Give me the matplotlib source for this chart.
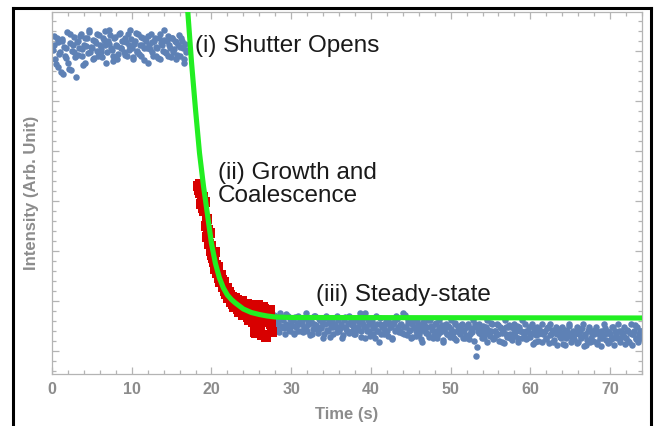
import numpy as np
import matplotlib.pyplot as plt
from matplotlib.lines import Line2D
from matplotlib.ticker import MultipleLocator

# ── Data (intensity in arbitrary units) ─────────────────────────────────────
# the trace was sampled every 0.1 s; listed as two interleaved halves (a, b)

t_before_a = np.round(np.arange(0.2, 16.81, 0.2), 1)
t_before_b = np.round(np.arange(0.1, 16.91, 0.2), 1)
t_steady_a = np.round(np.arange(27.6, 74.01, 0.2), 1)
t_steady_b = np.round(np.arange(27.7, 73.91, 0.2), 1)

i_before_a = [
    71.3, 68.4, 72.7, 66.9, 69.8, 72.0, 65.5, 69.1, 70.6, 67.7, 73.5, 66.2, 71.3, 69.8, 64.8,
    72.0, 70.6, 73.5, 69.1, 71.3, 67.7, 72.7, 74.2, 69.8, 70.6, 68.4, 72.0, 73.5, 69.1, 71.3,
    69.8, 72.7, 71.3, 67.7, 72.0, 74.2, 70.6, 69.1, 72.7, 71.3, 68.4, 73.5, 70.6, 72.0, 69.8,
    72.7, 69.1, 71.3, 74.2, 70.6, 68.4, 72.0, 69.8, 73.5, 71.3, 69.1, 72.7, 70.6, 72.0, 67.7,
    71.3, 73.5, 69.8, 72.0, 69.1, 70.6, 72.7, 68.4, 71.3, 74.2, 69.8, 72.0, 69.1, 70.6, 72.7,
    69.8, 72.0, 68.4, 71.3, 69.1, 72.7, 70.6, 67.7, 69.8,
]
i_before_b = [
    70.2, 73.0, 67.4, 71.8, 69.5, 65.9, 72.4, 70.9, 68.7, 73.8, 66.5, 71.6, 70.1, 72.9, 68.9,
    71.9, 69.3, 73.1, 70.4, 67.2, 72.6, 71.0, 69.6, 73.9, 70.8, 72.3, 68.6, 71.7, 70.0, 73.3,
    70.5, 68.8, 72.2, 74.0, 69.9, 71.5, 73.2, 70.3, 68.1, 72.8, 71.1, 69.4, 73.6, 70.7, 72.1,
    69.2, 71.9, 73.4, 70.2, 72.5, 68.9, 71.4, 73.7, 70.0, 69.5, 72.9, 71.2, 68.3, 72.4, 70.6,
    73.1, 70.4, 71.8, 69.0, 72.7, 70.9, 68.6, 73.5, 71.6, 70.1, 72.2, 69.7, 73.0, 71.3, 68.8,
    72.6, 70.5, 71.9, 69.3, 73.2, 70.8, 72.0, 68.5, 71.4, 70.2,
]

i_steady_a = [
    16.3, 14.8, 17.0, 14.1, 15.5, 17.7, 14.8, 16.3, 13.4, 15.5,
    17.0, 14.1, 15.5, 16.3, 13.4, 14.8, 17.0, 15.5, 14.1, 16.3,
    14.8, 17.7, 14.1, 15.5, 16.3, 13.4, 15.5, 17.0, 14.8, 14.1,
    16.3, 14.8, 12.6, 15.5, 17.0, 14.1, 16.3, 14.8, 13.4, 15.5,
    14.8, 17.0, 14.1, 15.5, 12.6, 16.3, 14.8, 14.1, 17.0, 15.5,
    14.1, 15.5, 13.4, 16.3, 14.8, 17.7, 14.1, 15.5, 12.6, 14.8,
    16.3, 14.1, 15.5, 13.4, 14.8, 17.0, 14.1, 11.9, 15.5, 14.8,
    13.4, 15.5, 14.1, 16.3, 14.8, 12.6, 15.5, 14.1, 17.0, 14.8,
    14.1, 15.5, 17.7, 13.4, 14.8, 16.3, 14.1, 12.6, 15.5, 14.8,
    14.1, 16.3, 13.4, 14.8, 11.9, 15.5, 14.1, 14.8, 13.4, 16.3,
    14.8, 12.6, 15.5, 14.1, 13.4, 16.3, 14.8, 11.9, 14.1, 15.5,
    13.4, 14.8, 16.3, 14.1, 12.6, 15.5, 14.1, 14.8, 13.4, 15.5,
    14.1, 12.6, 14.8, 15.5, 13.4, 14.1, 16.3, 14.8, 9.0, 14.1,
    15.5, 13.4, 14.1, 12.6, 14.8, 16.3, 13.4, 14.1, 15.5, 12.6,
    14.1, 15.5, 13.4, 14.8, 11.9, 14.1, 16.3, 13.4, 14.8, 12.6,
    14.8, 13.4, 15.5, 14.1, 12.6, 14.8, 14.1, 16.3, 13.4, 14.1,
    12.6, 14.8, 13.4, 15.5, 14.1, 11.9, 14.8, 13.4, 14.1, 15.5,
    13.4, 14.1, 12.6, 14.8, 15.5, 13.4, 11.9, 14.1, 14.8, 13.4,
    14.1, 12.6, 14.8, 13.4, 11.2, 14.1, 15.5, 13.4, 12.6, 14.1,
    13.4, 14.8, 11.9, 14.1, 12.6, 15.5, 13.4, 11.2, 14.1, 14.8,
    12.6, 14.1, 13.4, 14.8, 11.9, 13.4, 14.1, 12.6, 15.5, 13.4,
    14.1, 11.9, 13.4, 14.8, 12.6, 14.1, 13.4, 15.5, 12.6, 14.1,
    13.4, 14.8, 12.6, 14.1, 11.9, 15.5, 13.4, 14.1, 12.6, 14.8,
    13.4, 14.1, 12.6,
]
i_steady_b = [
    15.8, 17.2, 14.4, 16.0, 13.9, 15.1, 16.8, 14.6, 17.4, 15.3,
    14.2, 16.5, 15.0, 13.6, 16.9, 15.7, 14.0, 16.2, 15.4, 13.8,
    16.6, 14.9, 15.8, 13.3, 16.1, 14.5, 17.1, 15.2, 13.7, 16.4,
    14.7, 15.9, 13.5, 16.7, 14.3, 15.6, 12.9, 16.0, 14.8, 15.3,
    13.9, 16.3, 14.6, 15.1, 13.2, 16.8, 14.4, 15.7, 13.6, 16.1,
    15.0, 13.4, 16.5, 14.2, 15.8, 12.8, 16.2, 14.9, 17.6, 14.0,
    15.5, 13.1, 16.0, 14.7, 12.7, 15.4, 14.1, 16.6, 13.5, 15.2,
    14.4, 16.1, 13.0, 15.6, 14.8, 12.5, 15.9, 14.3, 16.4, 13.8,
    15.3, 13.6, 14.9, 17.2, 13.3, 15.7, 14.2, 12.9, 16.0, 14.6,
    13.1, 15.4, 14.0, 12.4, 15.8, 14.5, 13.7, 16.2, 12.8, 15.0,
    14.3, 13.2, 15.6, 12.6, 14.9, 13.9, 15.2, 12.3, 14.6, 13.5,
    15.1, 12.9, 14.4, 13.6, 15.7, 12.2, 14.8, 13.8, 15.3, 12.7,
    14.2, 13.3, 15.0, 12.4, 14.7, 13.9, 12.0, 15.4, 10.8, 13.6,
    14.5, 12.6, 15.1, 13.4, 11.8, 14.3, 13.0, 15.6, 12.5, 14.0,
    13.2, 15.2, 12.1, 14.6, 13.7, 11.6, 14.9, 12.9, 15.3, 13.5,
    12.3, 14.4, 13.1, 15.0, 11.9, 14.1, 12.7, 13.8, 15.5, 12.4,
    14.0, 12.8, 13.5, 11.5, 14.7, 13.2, 12.0, 14.4, 13.6, 11.8,
    13.9, 12.5, 14.6, 11.7, 13.3, 14.2, 12.2, 13.7, 11.3, 14.5,
    12.9, 13.6, 11.4, 14.3, 12.6, 13.1, 15.0, 11.9, 13.8, 12.4,
    14.1, 11.6, 13.4, 12.8, 14.7, 11.1, 13.0, 12.3, 14.4, 11.8,
    13.5, 12.1, 14.2, 11.4, 13.8, 12.7, 11.0, 13.3, 14.6, 12.2,
    11.7, 13.9, 12.4, 14.8, 11.3, 13.1, 12.6, 14.0, 11.9, 13.6,
    12.8, 11.5, 14.3, 12.0, 13.7, 11.2, 13.4, 15.2, 12.5, 11.9,
    13.0, 14.1,
]

# growth & coalescence window (red squares)
t_growth_a = [
    18.3, 18.5, 18.7, 18.9, 19.1, 19.3, 19.5, 19.7, 19.9, 20.1,
    20.3, 20.5, 20.7, 20.9, 21.1, 21.3, 21.5, 21.7, 21.9, 22.1,
    22.3, 22.5, 22.7, 22.9, 23.1, 23.3, 23.5, 23.7, 23.9, 24.1,
    24.3, 24.5, 24.7, 24.9, 25.1, 25.3, 25.5, 25.7, 25.9, 26.1,
    26.3, 26.5, 26.7, 26.9, 27.1, 27.3, 27.5,
]
i_growth_a = [
    43.0, 41.6, 39.4, 40.9, 38.0, 35.1, 32.9, 31.5, 30.0, 29.3,
    27.8, 26.4, 25.7, 25.0, 23.9, 24.2, 22.8, 22.1, 21.7, 20.6,
    21.3, 19.9, 19.5, 20.6, 19.2, 18.4, 19.9, 18.8, 17.7, 19.2,
    17.3, 18.4, 16.3, 18.1, 19.2, 17.0, 13.9, 18.4, 17.3, 15.2,
    17.7, 18.8, 16.3, 13.0, 18.1, 16.6, 15.5,
]
t_growth_b = [
    18.4, 18.6, 18.8, 19.0, 19.2, 19.4, 19.6, 19.8, 20.0, 20.2,
    20.4, 20.6, 20.8, 21.0, 21.2, 21.4, 21.6, 21.8, 22.0, 22.2,
    22.4, 22.6, 22.8, 23.0, 23.2, 23.4, 23.6, 23.8, 24.0, 24.2,
    24.4, 24.6, 24.8, 25.0, 25.2, 25.4, 25.6, 25.8, 26.0, 26.2,
    26.4, 26.6, 26.8, 27.0, 27.2, 27.4, 27.6,
]
i_growth_b = [
    42.2, 43.5, 40.1, 38.6, 39.8, 36.4, 34.2, 33.6, 31.0, 28.6,
    29.9, 27.2, 26.9, 24.6, 25.2, 23.4, 23.9, 21.5, 22.6, 21.9,
    20.2, 20.9, 18.9, 19.6, 20.3, 17.9, 18.6, 20.1, 17.2, 18.3,
    19.5, 16.8, 17.6, 19.0, 15.9, 18.0, 13.6, 19.3, 15.0, 17.4,
    13.2, 18.5, 12.8, 17.0, 15.8, 18.2, 13.9,
]

# exponential fit curve (green)
t_fit = [16.9, 17.5, 18.0, 18.5, 19.0, 19.5, 20.0, 20.5, 21.0, 21.5,
         22.0, 22.5, 23.0, 24.0, 25.0, 26.0, 27.0, 28.0, 30.0, 74.0]
i_fit = [80.7, 67.7, 58.3, 49.6, 43.0, 37.3, 31.5, 27.5, 24.6, 22.6,
         21.2, 20.3, 19.6, 18.4, 17.7, 17.3, 17.0, 16.8, 16.7, 16.6]

# ── Style ────────────────────────────────────────────────────────────────────

plt.rcParams["font.family"] = ["Liberation Sans", "DejaVu Sans"]

blue = "#5e81b5"
red = "#d80000"
green = "#22ee22"
frame_grey = "#b4b4b4"
label_grey = "#8c8c8c"

fig = plt.figure(figsize=(6.57, 4.26), dpi=100)
ax = fig.add_axes([52 / 657, 1 - 374 / 426, 590 / 657, 362 / 426])

for t, i in [(t_before_a, i_before_a), (t_before_b, i_before_b),
             (t_steady_a, i_steady_a), (t_steady_b, i_steady_b)]:
    ax.scatter(t, i, s=22, color=blue, linewidths=0, zorder=2)
for t, i in [(t_growth_a, i_growth_a), (t_growth_b, i_growth_b)]:
    ax.scatter(t, i, s=55, marker="s", color=red, linewidths=0, zorder=3)
ax.plot(t_fit, i_fit, color=green, lw=3.7, solid_capstyle="butt", zorder=4)

ax.set_xlim(0, 74)
ax.set_ylim(5.4, 77.8)

# Mathematica-like frame: ticks inward on every side, labels only at the bottom
ax.xaxis.set_major_locator(MultipleLocator(10))
ax.xaxis.set_minor_locator(MultipleLocator(2))
ax.yaxis.set_major_locator(MultipleLocator(10))
ax.yaxis.set_minor_locator(MultipleLocator(2))
ax.tick_params(which="both", direction="in", top=True, right=True,
               color=frame_grey, width=0.9)
ax.tick_params(which="major", length=5)
ax.tick_params(which="minor", length=3)
ax.tick_params(axis="x", labelsize=11.5, labelcolor=label_grey, pad=6)
ax.tick_params(axis="y", labelleft=False)
for lab in ax.get_xticklabels():
    lab.set_fontweight("bold")
for spine in ax.spines.values():
    spine.set_color(frame_grey)
    spine.set_linewidth(0.9)

ax.set_xlabel("Time (s)", fontsize=12, fontweight="bold", color=label_grey, labelpad=7)
ax.set_ylabel("Intensity (Arb. Unit)", fontsize=12, fontweight="bold", color=label_grey,
              labelpad=6)

# ── Annotations ──────────────────────────────────────────────────────────────

txt = dict(fontsize=17.5, color="#1a1a1a", zorder=5)
ax.text(17.9, 71.0, "(i) Shutter Opens", va="center", ha="left", **txt)
ax.text(20.8, 43.3, "(ii) Growth and\nCoalescence", va="center", ha="left",
        linespacing=1.1, **txt)
ax.text(33.1, 21.2, "(iii) Steady-state", va="center", ha="left", **txt)

# ── Black outer frame (open at the bottom) ───────────────────────────────────

W, H = 657, 426
for xs, ys in [((13, 13), (0, 418)), ((13, 651), (418, 418)), ((651, 651), (0, 418))]:
    fig.add_artist(Line2D([x / W for x in xs], [y / H for y in ys],
                          transform=fig.transFigure, color="black", lw=2.2))

fig.savefig("out.png", dpi=100)
